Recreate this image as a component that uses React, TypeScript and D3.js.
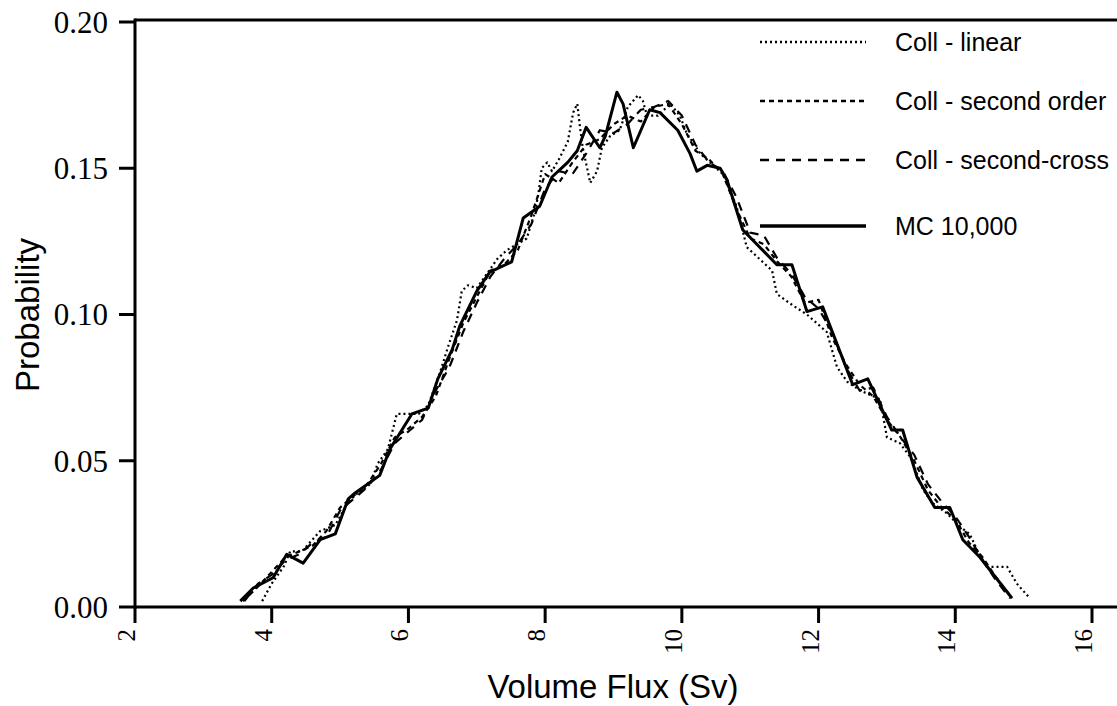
import React from "react";
import * as d3 from "d3";

const xTicks = [2, 4, 6, 8, 10, 12, 14, 16];
const yTicks = [0, 0.05, 0.1, 0.15, 0.2];

const mcX = [3.54, 3.73, 4.02, 4.22, 4.46, 4.71, 4.93, 5.12, 5.22, 5.58, 5.73, 6.05, 6.29, 6.43, 6.64, 6.75, 7.0, 7.19, 7.51, 7.68, 7.92, 8.1, 8.33, 8.47, 8.6, 8.8, 8.88, 9.05, 9.14, 9.29, 9.53, 9.68, 9.94, 10.12, 10.22, 10.37, 10.56, 10.66, 10.89, 11.39, 11.61, 11.83, 12.06, 12.5, 12.72, 13.07, 13.23, 13.44, 13.7, 13.92, 14.11, 14.36, 14.83];
const mcY = [0.002, 0.0065, 0.01, 0.018, 0.015, 0.023, 0.025, 0.037, 0.039, 0.045, 0.054, 0.066, 0.068, 0.078, 0.088, 0.096, 0.108, 0.1145, 0.118, 0.133, 0.137, 0.147, 0.152, 0.156, 0.164, 0.157, 0.161, 0.176, 0.172, 0.157, 0.17, 0.169, 0.163, 0.155, 0.149, 0.151, 0.15, 0.146, 0.129, 0.117, 0.117, 0.101, 0.1026, 0.076, 0.078, 0.0605, 0.0605, 0.0444, 0.034, 0.034, 0.023, 0.017, 0.003];

const linX = [3.86, 4.0, 4.18, 4.27, 4.44, 4.71, 4.93, 5.12, 5.26, 5.44, 5.55, 5.7, 5.83, 5.95, 6.15, 6.29, 6.46, 6.58, 6.71, 6.78, 6.87, 7.0, 7.3, 7.44, 7.73, 7.85, 7.9, 7.95, 8.03, 8.1, 8.2, 8.33, 8.41, 8.47, 8.51, 8.55, 8.66, 8.76, 8.83, 8.95, 9.09, 9.21, 9.36, 9.43, 9.49, 9.65, 9.83, 9.97, 10.07, 10.27, 10.41, 10.6, 10.8, 10.95, 11.32, 11.39, 11.63, 11.83, 12.12, 12.27, 12.42, 12.61, 12.9, 13.0, 13.19, 13.35, 13.53, 13.67, 13.88, 14.07, 14.21, 14.32, 14.46, 14.76, 14.9, 15.09];
const linY = [0.002, 0.008, 0.014, 0.019, 0.019, 0.026, 0.028, 0.036, 0.039, 0.042, 0.049, 0.054, 0.066, 0.066, 0.066, 0.069, 0.08, 0.089, 0.098, 0.108, 0.11, 0.109, 0.119, 0.122, 0.126, 0.135, 0.141, 0.15, 0.152, 0.149, 0.153, 0.159, 0.169, 0.172, 0.164, 0.157, 0.145, 0.149, 0.157, 0.161, 0.163, 0.171, 0.175, 0.173, 0.168, 0.168, 0.172, 0.168, 0.162, 0.155, 0.152, 0.148, 0.137, 0.123, 0.115, 0.107, 0.103, 0.1, 0.094, 0.082, 0.077, 0.074, 0.071, 0.058, 0.056, 0.051, 0.04, 0.0355, 0.032, 0.0274, 0.025, 0.0195, 0.0137, 0.0137, 0.008, 0.003];

const secX = [3.58, 3.8, 4.0, 4.2, 4.4, 4.6, 4.8, 5.0, 5.2, 5.4, 5.6, 5.8, 6.0, 6.2, 6.4, 6.6, 6.8, 7.0, 7.2, 7.4, 7.6, 7.8, 8.0, 8.2, 8.4, 8.6, 8.8, 9.0, 9.2, 9.4, 9.6, 9.8, 10.0, 10.2, 10.4, 10.6, 10.8, 11.0, 11.2, 11.4, 11.6, 11.8, 12.0, 12.2, 12.4, 12.6, 12.8, 13.0, 13.2, 13.4, 13.6, 13.8, 14.0, 14.2, 14.4, 14.6, 14.8];
const secY = [0.002, 0.007, 0.012, 0.017, 0.019, 0.021, 0.026, 0.034, 0.038, 0.042, 0.049, 0.058, 0.061, 0.065, 0.072, 0.085, 0.097, 0.106, 0.115, 0.117, 0.122, 0.134, 0.148, 0.145, 0.152, 0.158, 0.16, 0.165, 0.168, 0.166, 0.171, 0.172, 0.165, 0.156, 0.153, 0.148, 0.136, 0.126, 0.124, 0.118, 0.113, 0.104, 0.105, 0.092, 0.083, 0.076, 0.072, 0.064, 0.058, 0.05, 0.04, 0.034, 0.03, 0.022, 0.017, 0.01, 0.004];

const crossX = [3.6, 3.8, 4.0, 4.2, 4.4, 4.6, 4.8, 5.0, 5.2, 5.4, 5.6, 5.8, 6.0, 6.2, 6.4, 6.6, 6.8, 7.0, 7.2, 7.4, 7.6, 7.8, 8.0, 8.2, 8.4, 8.6, 8.8, 9.0, 9.2, 9.4, 9.6, 9.8, 10.0, 10.2, 10.4, 10.6, 10.8, 11.0, 11.2, 11.4, 11.6, 11.8, 12.0, 12.2, 12.4, 12.6, 12.8, 13.0, 13.2, 13.4, 13.6, 13.8, 14.0, 14.2, 14.4, 14.6, 14.8];
const crossY = [0.002, 0.008, 0.011, 0.016, 0.018, 0.022, 0.024, 0.033, 0.037, 0.041, 0.047, 0.056, 0.06, 0.064, 0.074, 0.082, 0.094, 0.104, 0.113, 0.119, 0.124, 0.131, 0.143, 0.149, 0.148, 0.155, 0.163, 0.162, 0.165, 0.17, 0.171, 0.173, 0.168, 0.158, 0.152, 0.149, 0.14, 0.128, 0.127, 0.119, 0.114, 0.106, 0.102, 0.094, 0.082, 0.074, 0.075, 0.065, 0.058, 0.052, 0.042, 0.036, 0.031, 0.024, 0.016, 0.009, 0.003];

const seriesNames = ["Coll - linear", "Coll - second order", "Coll - second-cross", "MC 10,000"];

export default function App() {
  const W = 1117, H = 706;
  const x = d3.scaleLinear().domain([2, 16]).range([135, 1092]);
  const y = d3.scaleLinear().domain([0, 0.2]).range([607, 22]);
  const line = d3.line<[number, number]>().x(d => x(d[0])).y(d => y(d[1]));
  const zip = (a: number[], b: number[]) => a.map((v, i) => [v, b[i]] as [number, number]);

  const series = [
    { name: seriesNames[0], pts: zip(linX, linY), dash: "2,3", w: 2.2 },
    { name: seriesNames[1], pts: zip(secX, secY), dash: "5,4", w: 2.2 },
    { name: seriesNames[2], pts: zip(crossX, crossY), dash: "9,7", w: 2.2 },
    { name: seriesNames[3], pts: zip(mcX, mcY), dash: "none", w: 3 },
  ];
  const legendY = [42, 101, 160, 226];

  return (
    <svg width={W} height={H} style={{ position: "absolute", left: 0, top: 0, background: "#fff" }}>
      <rect x={0} y={0} width={W} height={H} fill="#fff" />
      {series.map((s, i) => (
        <path key={i} d={line(s.pts) || ""} fill="none" stroke="#000" strokeWidth={s.w}
          strokeDasharray={s.dash} strokeLinejoin="round" />
      ))}
      {/* axes */}
      <line x1={135} x2={W} y1={20} y2={20} stroke="#000" strokeWidth={3} />
      <line x1={135} x2={135} y1={18.5} y2={608.5} stroke="#000" strokeWidth={3} />
      <line x1={135} x2={W} y1={607} y2={607} stroke="#000" strokeWidth={3} />
      {yTicks.map(t => (
        <g key={t}>
          <line x1={119} x2={135} y1={y(t)} y2={y(t)} stroke="#000" strokeWidth={3} />
          <text x={108} y={y(t)} dy="0.35em" textAnchor="end" fontFamily="Liberation Serif, Times New Roman, serif" fontSize={31}>{t.toFixed(2)}</text>
        </g>
      ))}
      {xTicks.map(t => (
        <g key={t}>
          <line x1={x(t)} x2={x(t)} y1={607} y2={623} stroke="#000" strokeWidth={3} />
          <text transform={`translate(${x(t)},629) rotate(-90)`} textAnchor="end" fontFamily="Liberation Serif, Times New Roman, serif" fontSize={25}>{t}</text>
        </g>
      ))}
      <text transform={`translate(39,315) rotate(-90)`} textAnchor="middle" fontFamily="Liberation Sans, Arial, sans-serif" fontSize={33}>Probability</text>
      <text x={613} y={698} textAnchor="middle" fontFamily="Liberation Sans, Arial, sans-serif" fontSize={33}>Volume Flux (Sv)</text>
      {series.map((s, i) => (
        <g key={i}>
          <line x1={760} x2={866} y1={legendY[i]} y2={legendY[i]} stroke="#000" strokeWidth={s.w + 0.3} strokeDasharray={s.dash} />
          <text x={895} y={legendY[i]} dy="0.35em" fontFamily="Liberation Sans, Arial, sans-serif" fontSize={25}>{s.name}</text>
        </g>
      ))}
    </svg>
  );
}
